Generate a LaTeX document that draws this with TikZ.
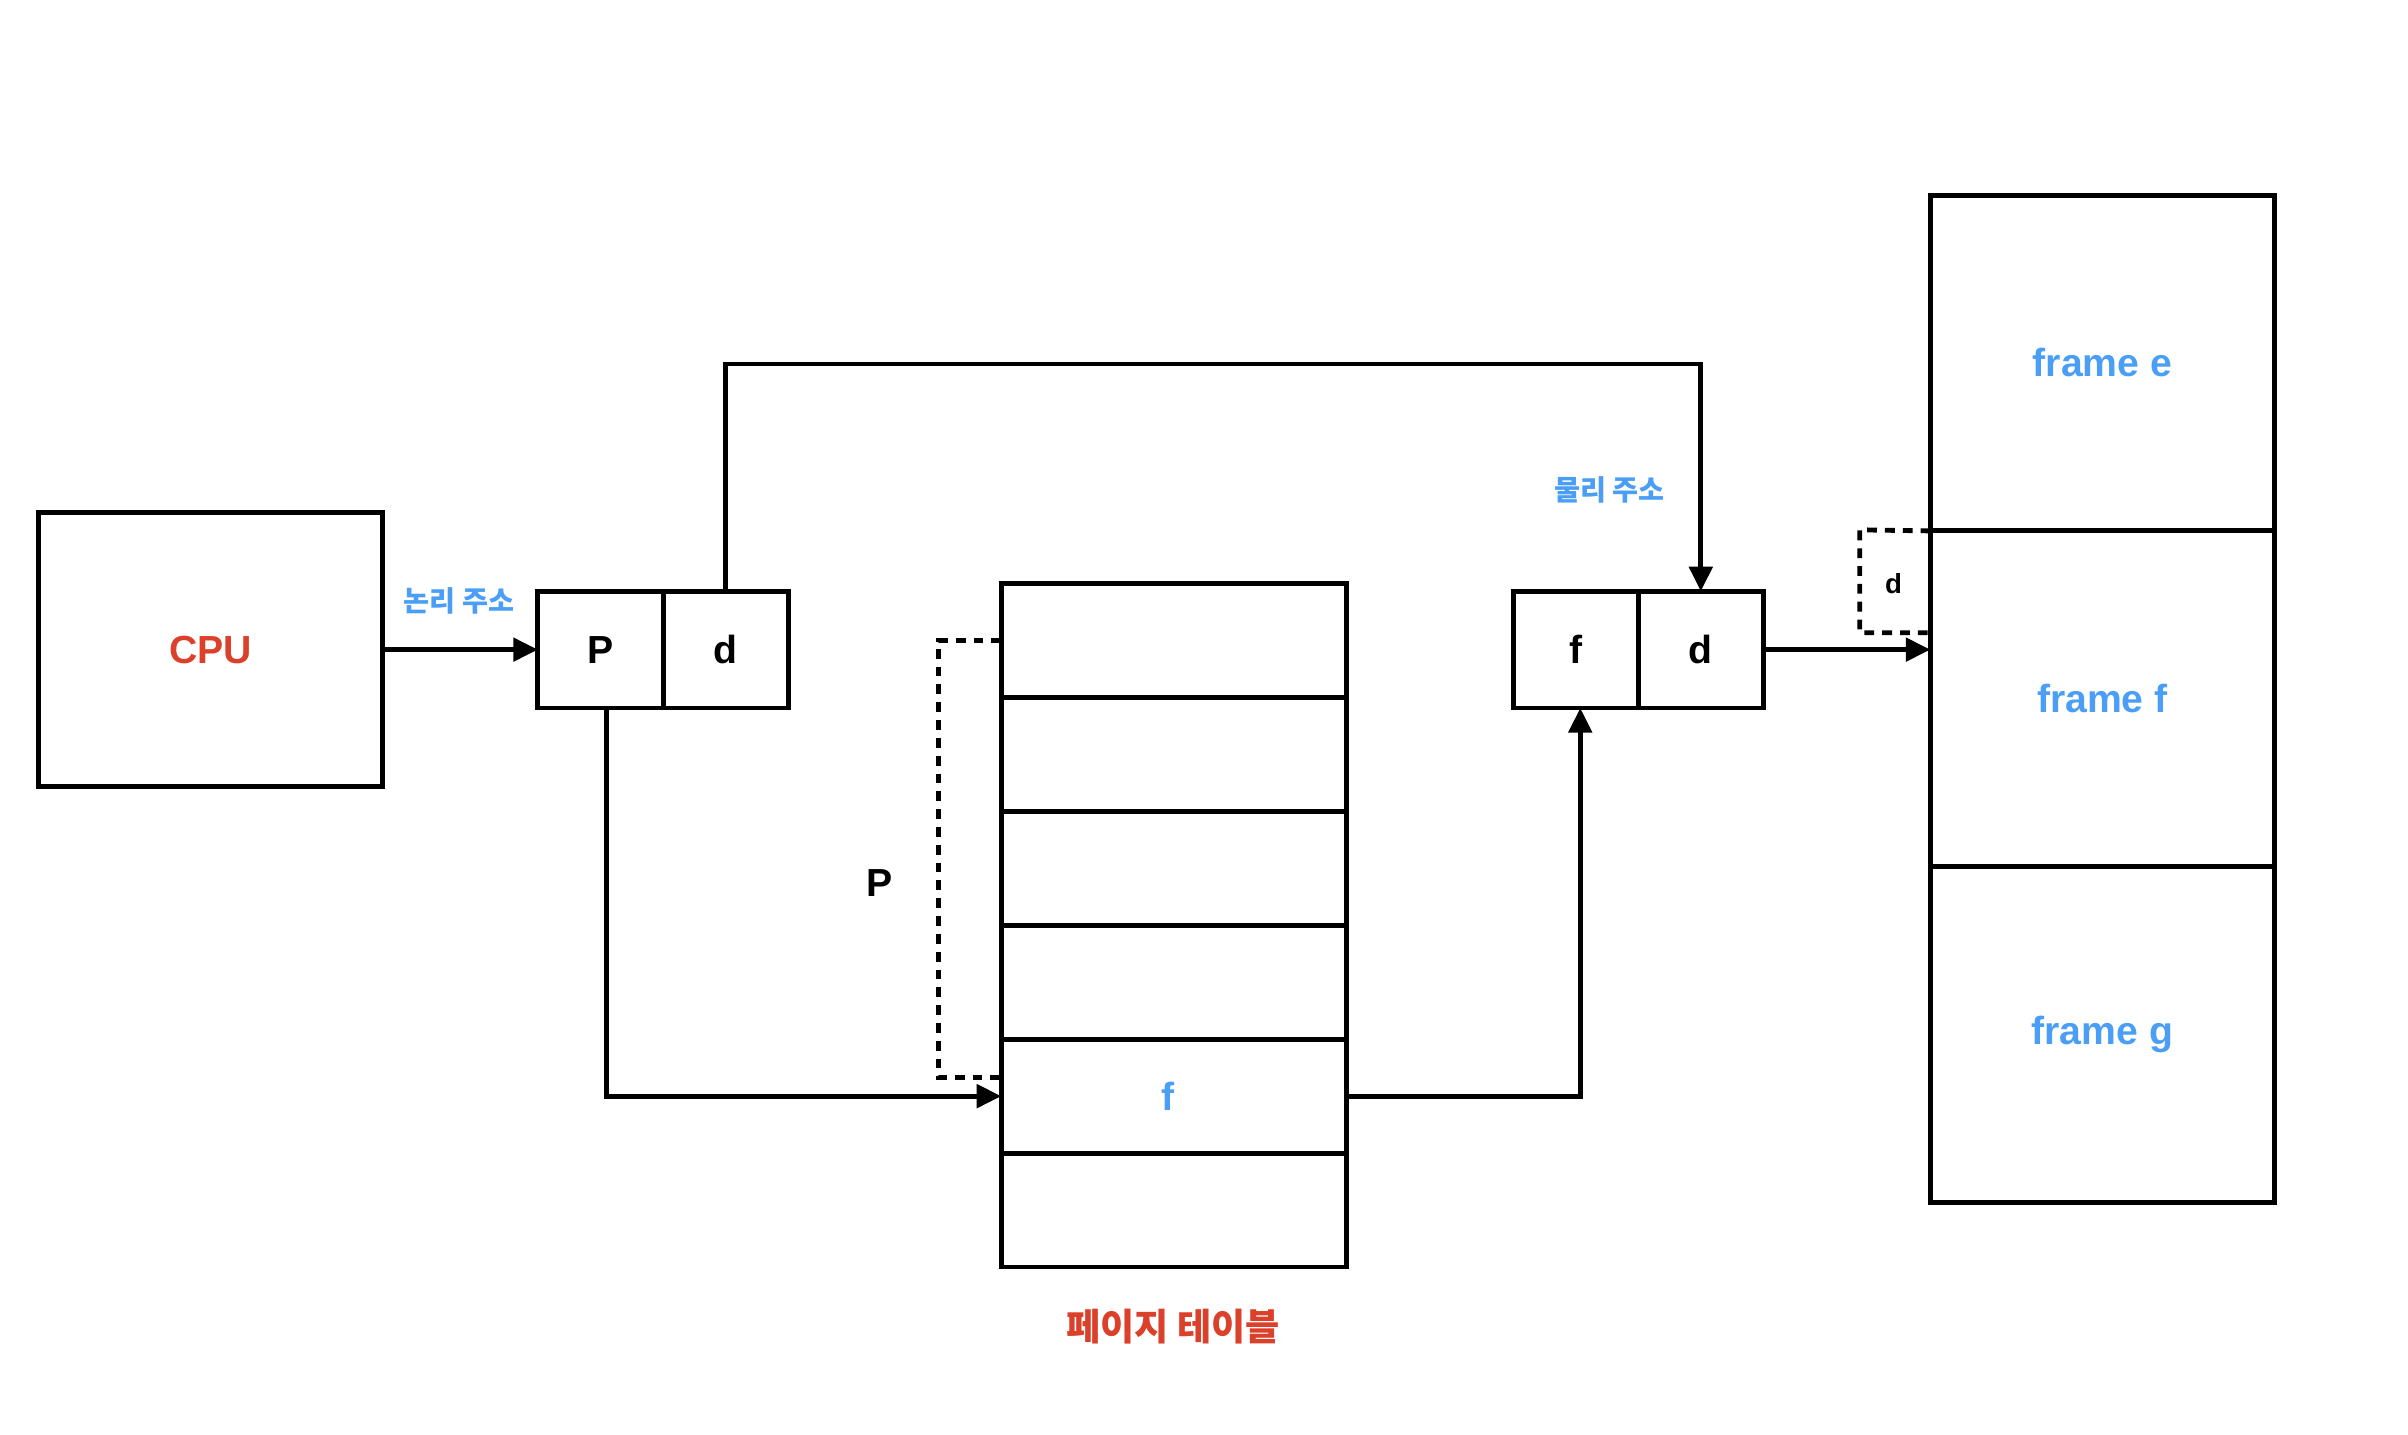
\documentclass[tikz,border=0pt]{standalone}
\usepackage{fontspec}
\setmainfont{Liberation Sans}
\newfontfamily\kr{Noto Sans CJK KR}
\usetikzlibrary{arrows.meta,calc}
\definecolor{cred}{RGB}{218,64,42}
\definecolor{cblue}{RGB}{74,158,245}
\begin{document}
\begin{tikzpicture}[x=0.5pt,y=-0.5pt,
  every node/.style={inner sep=0pt,outer sep=0pt},
  box/.style={draw,line width=1.6pt,rectangle,font=\fontsize{12.75}{14}\selectfont\bfseries},
  cell/.style={box,minimum width=40.75pt,minimum height=38pt},
  row/.style={box,minimum width=112.5pt,minimum height=37.08pt},
  frm/.style={box,minimum width=112pt,minimum height=109.33pt,text=cblue},
  arr/.style={line width=1.6pt,-{Triangle[length=8pt,width=7.5pt]}},
  dsh/.style={line width=1.6pt,dash pattern=on 3.2pt off 2.6pt},
  krlab/.style={font=\kr\bfseries\fontsize{9.2}{11}\selectfont,text=cblue},
  lab/.style={font=\fontsize{12.75}{14}\selectfont\bfseries}]
\useasboundingbox (0,0) rectangle (1568,934);

% CPU
\node[box,minimum width=112pt,minimum height=89pt,text=cred] (cpu) at (137,423) {CPU};

% logical address
\node[cell] (pc) at (391,423) {P};
\node[cell] (dc) at (472.5,423) {d};
\node[krlab] (la) at (299,391) {논리 주소};

% page table
\foreach \i in {1,...,6} {
  \node[row] (r\i) at (764.5,{380+74.17*(\i-0.5)}) {};
}
\node[lab,text=cblue] (fr) at ($(r5)+(-4,0)$) {f};
\node[font=\kr\bfseries\fontsize{12.1}{14}\selectfont,text=cred] (ptl) at (764,864) {페이지 테이블};
\node[lab] (plab) at (573,575) {P};

% physical address
\node[cell] (fc) at (1026,423) {f};
\node[cell] (dd) at (1107.5,423) {d};
\node[krlab] (pa) at (1048,319) {물리 주소};

% memory
\node[frm] (fe) at (1369,{127+218.67*0.5}) {frame e};
\node[frm] (ff) at (1369,{127+218.67*1.5}) {frame f};
\node[frm] (fg) at (1369,{127+218.67*2.5}) {frame g};

% dashed d box
\coordinate (dbt) at (1211,345);
\coordinate (dbb) at (1211,412);
\draw[dsh] (fe.south west) -- (dbt) -- (dbb) -- (dbb -| ff.west);
\node[font=\fontsize{9}{10}\selectfont\bfseries] (dsm) at (1233,380) {d};

% connectors
\draw[arr] (cpu.east) -- (pc.west);
\coordinate (topy) at (0,237);
\draw[arr] (dc.north) -- (dc.north |- topy) -- (dd.north |- topy) -- (dd.north);
\draw[arr] ([xshift=2pt]pc.south) |- (r5.west);
\draw[arr] (r5.east) -| ([xshift=1.5pt]fc.south);
\draw[arr] (dd.east) -- (dd.east -| ff.west);

% dashed bracket
\coordinate (bx) at (611,0);
\draw[dsh] (r1.west) -- (r1.west -| bx) -- ($(r5.west -| bx)+(0,-12)$) -- ($(r5.west)+(0,-12)$);
\end{tikzpicture}
\end{document}
